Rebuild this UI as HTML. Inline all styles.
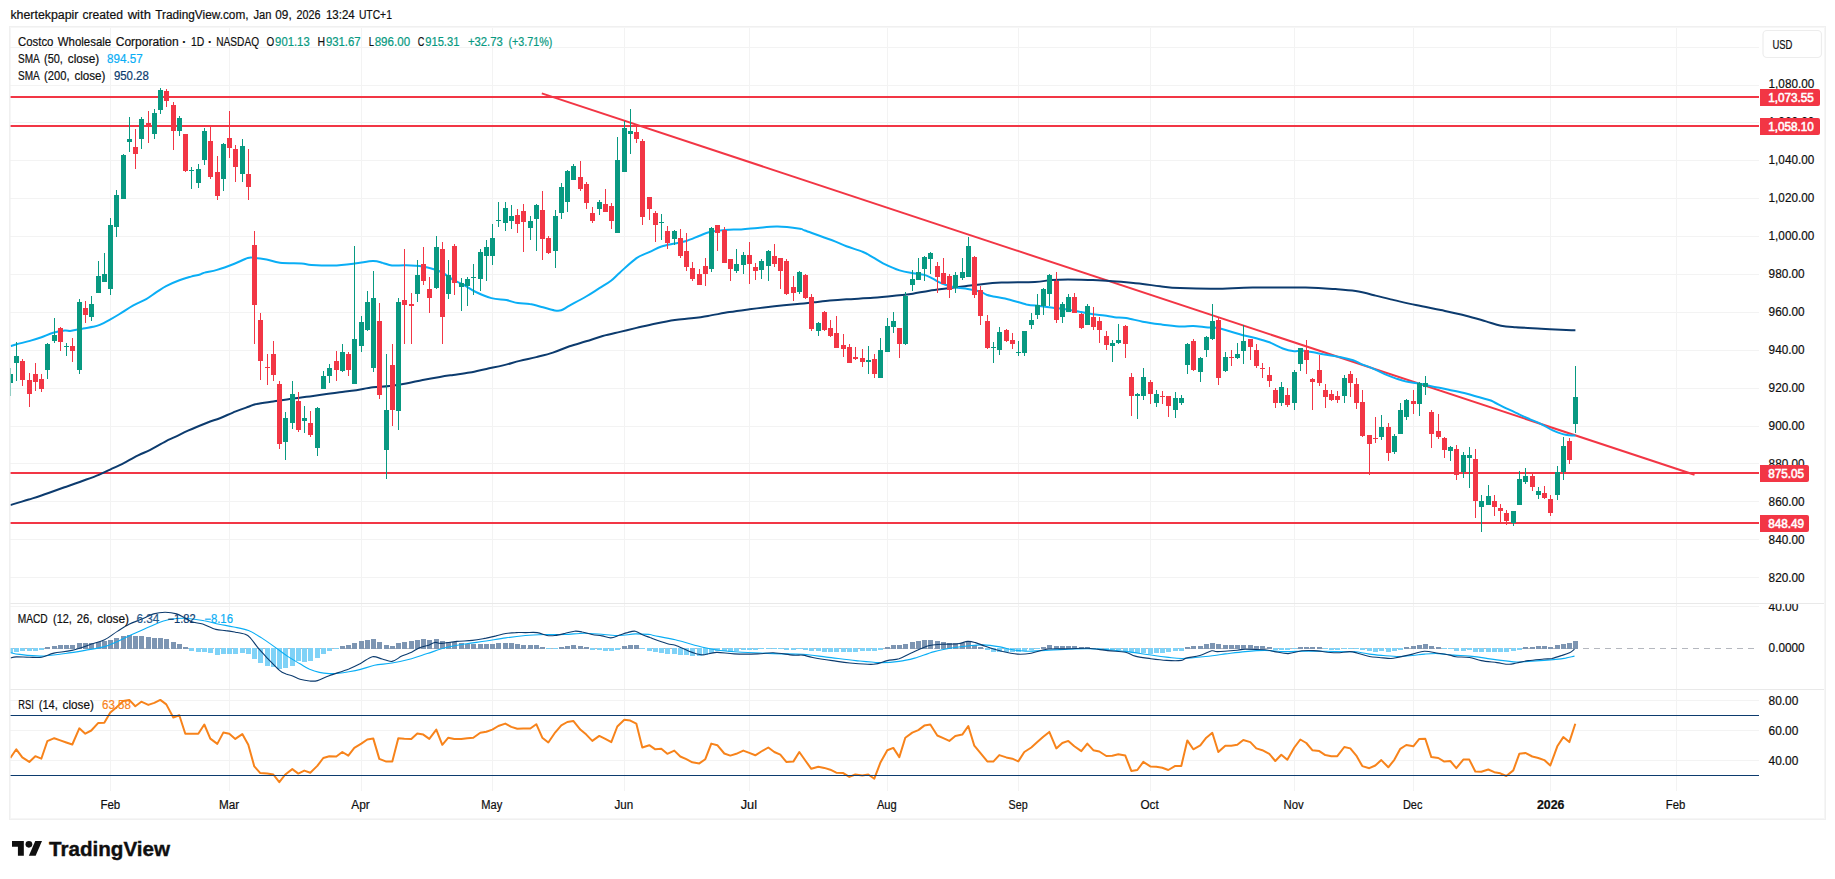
<!DOCTYPE html>
<html><head><meta charset="utf-8"><title>Costco Wholesale Corporation chart</title>
<style>html,body{margin:0;padding:0;background:#fff;overflow:hidden}svg{display:block}</style></head>
<body>
<svg width="1835" height="879" viewBox="0 0 1835 879" font-family='"Liberation Sans", sans-serif' font-size="12" fill="#0f0f0f">
<style>text{stroke-width:.2px}</style>
<g stroke="#0f0f0f" stroke-width="0">
<rect width="1835" height="879" fill="#fff"/>
<path d="M110.5 28V791M229.5 28V791M361.5 28V791M492.5 28V791M624.5 28V791M749.5 28V791M887.5 28V791M1018.5 28V791M1150.5 28V791M1294.5 28V791M1413.5 28V791M1550.5 28V791M1676.5 28V791M10 47.5H1759M10 85.5H1759M10 122.5H1759M10 160.5H1759M10 198.5H1759M10 236.5H1759M10 274.5H1759M10 312.5H1759M10 350.5H1759M10 388.5H1759M10 426.5H1759M10 463.5H1759M10 501.5H1759M10 539.5H1759M10 577.5H1759M10 606.5H1759M10 700.5H1759M10 730.5H1759M10 760.5H1759" stroke="#f3f3f3" stroke-width="1" fill="none" shape-rendering="crispEdges"/>
<g clip-path="url(#cm)">
<clipPath id="cm"><rect x="10" y="28" width="1749" height="575"/></clipPath>
<rect x="10" y="96" width="1749" height="2" fill="#f23645" shape-rendering="crispEdges"/>
<rect x="10" y="125" width="1749" height="2" fill="#f23645" shape-rendering="crispEdges"/>
<rect x="10" y="472" width="1749" height="2" fill="#f23645" shape-rendering="crispEdges"/>
<rect x="10" y="522" width="1749" height="2" fill="#f23645" shape-rendering="crispEdges"/>
<line x1="541.8" y1="93.4" x2="1694.5" y2="474.8" stroke="#f23645" stroke-width="2"/>
<path d="M10.4 505.1C13.4 504.1 23.5 501.1 28.7 499.5C33.9 497.9 35.6 497.5 41.4 495.5C47.3 493.5 57.4 489.8 63.7 487.5C70.1 485.3 73.8 484.1 79.7 482.0C85.5 479.8 93.5 477.0 98.8 474.8C104.1 472.6 107.3 470.9 111.5 468.9C115.8 466.9 119.7 465.1 124.3 462.8C128.8 460.6 134.4 457.3 138.6 455.2C142.8 453.1 145.2 452.4 149.8 450.1C154.3 447.8 161.4 443.5 165.7 441.3C169.9 439.1 171.5 438.7 175.2 436.9C179.0 435.1 182.7 433.0 188.0 430.7C193.3 428.3 201.8 424.8 207.1 422.7C212.4 420.6 215.1 420.1 219.9 418.2C224.6 416.3 231.0 413.3 235.8 411.4C240.6 409.5 245.1 408.0 248.5 406.8C252.0 405.5 252.5 404.8 256.6 404.0C260.7 403.1 267.7 402.3 273.2 401.5C278.8 400.6 284.3 399.7 289.8 399.0C295.4 398.2 300.9 397.6 306.4 396.8C312.0 396.1 317.5 395.2 323.1 394.5C328.6 393.7 334.1 393.0 339.7 392.3C345.2 391.6 350.7 391.0 356.3 390.2C361.8 389.3 367.4 388.0 372.9 387.3C378.4 386.7 384.0 386.7 389.5 386.0C395.0 385.4 400.6 384.5 406.1 383.5C411.7 382.5 417.1 381.0 422.7 379.9C428.4 378.8 434.9 377.7 440.0 376.9C445.1 376.0 448.3 375.6 453.2 374.9C458.2 374.2 464.3 373.6 469.8 372.6C475.4 371.6 480.9 370.1 486.4 368.9C492.0 367.7 497.5 366.7 503.1 365.4C508.6 364.1 514.1 362.3 519.7 360.9C525.2 359.5 530.7 358.5 536.3 357.1C541.8 355.7 547.4 354.4 552.9 352.6C558.4 350.8 564.0 348.2 569.5 346.3C575.0 344.4 580.6 343.0 586.1 341.3C591.7 339.6 597.1 337.6 602.7 336.0C608.4 334.4 614.4 333.2 620.0 331.9C625.6 330.5 630.7 329.3 636.5 327.9C642.3 326.6 648.4 325.1 654.8 323.8C661.2 322.5 668.7 321.0 674.8 320.1C680.8 319.2 685.8 319.0 691.4 318.3C696.9 317.6 701.6 317.0 708.0 315.9C714.3 314.9 722.6 313.2 729.6 312.1C736.5 311.0 742.0 310.3 749.5 309.3C757.0 308.3 766.0 307.2 774.4 306.3C782.8 305.4 793.5 304.5 800.0 303.8C806.5 303.2 808.3 302.8 813.2 302.3C818.2 301.8 824.3 301.1 829.8 300.6C835.4 300.1 839.2 299.8 846.4 299.3C853.6 298.8 864.7 298.4 873.0 297.8C881.3 297.2 889.6 296.3 896.3 295.6C902.9 295.0 907.4 294.5 912.9 293.7C918.4 292.8 924.0 291.5 929.5 290.7C935.0 289.8 940.6 289.2 946.1 288.5C951.7 287.8 957.1 287.2 962.7 286.5C968.4 285.8 973.5 285.0 980.0 284.4C986.5 283.7 992.4 283.0 1001.5 282.6C1010.7 282.2 1026.4 282.4 1034.8 282.0C1043.1 281.5 1045.8 280.5 1051.4 280.1C1056.9 279.7 1061.1 279.5 1068.0 279.5C1074.9 279.5 1086.0 279.9 1092.9 280.1C1099.8 280.4 1104.0 280.6 1109.5 281.0C1115.0 281.3 1120.6 281.8 1126.1 282.3C1131.7 282.8 1137.1 283.3 1142.7 284.0C1148.4 284.6 1153.8 285.6 1160.1 286.3C1166.3 287.0 1170.9 287.7 1180.1 288.1C1189.3 288.5 1203.1 288.9 1215.2 288.8C1227.3 288.7 1237.8 287.8 1252.8 287.6C1267.9 287.4 1291.7 287.3 1305.5 287.6C1319.2 287.8 1327.2 288.5 1335.5 289.1C1343.9 289.7 1348.9 290.0 1355.6 291.1C1362.3 292.2 1369.8 294.2 1375.6 295.6C1381.5 297.0 1384.0 297.8 1390.7 299.4C1397.4 300.9 1407.4 303.3 1415.8 305.1C1424.1 306.9 1432.5 308.4 1440.8 310.1C1449.2 311.9 1458.4 313.8 1465.9 315.7C1473.4 317.5 1480.1 319.7 1486.0 321.4C1491.8 323.1 1496.0 324.7 1501.0 325.7C1506.0 326.6 1509.3 326.7 1516.0 327.2C1522.7 327.7 1532.7 328.2 1541.1 328.7C1549.5 329.1 1560.4 329.7 1566.2 329.9C1571.9 330.2 1573.9 330.2 1575.4 330.2" stroke="#0c3b6e" stroke-width="2" fill="none" stroke-linejoin="round"/>
<path d="M10.8 346.1C11.8 345.8 13.4 345.1 16.6 344.3C19.8 343.4 25.7 342.1 29.9 340.9C34.1 339.8 37.7 338.6 41.5 337.3C45.4 335.9 49.3 333.9 53.2 332.8C57.0 331.7 61.7 331.0 64.8 330.6C67.8 330.3 68.4 331.2 71.4 330.8C74.5 330.4 79.5 329.1 83.1 328.5C86.7 327.8 90.3 327.4 93.0 326.8C95.8 326.2 96.9 326.0 99.7 324.8C102.4 323.7 106.3 321.6 109.6 319.8C113.0 318.0 115.7 316.4 119.6 314.0C123.5 311.7 128.5 308.2 132.9 305.7C137.3 303.2 142.3 301.3 146.2 299.1C150.1 296.9 152.8 294.6 156.1 292.4C159.5 290.3 162.2 288.1 166.1 286.1C170.0 284.1 175.2 281.9 179.4 280.3C183.6 278.7 187.6 277.6 191.0 276.6C194.5 275.7 197.8 275.2 200.0 274.5C202.2 273.8 201.7 273.3 204.5 272.6C207.3 271.8 212.0 271.4 217.0 269.9C222.0 268.5 229.3 265.8 234.4 263.8C239.5 261.8 244.4 259.0 247.7 258.0C251.0 257.0 251.3 257.6 254.5 257.9C257.6 258.1 262.3 258.7 266.6 259.5C270.8 260.3 274.1 262.0 279.9 262.7C285.7 263.4 296.2 263.2 301.5 263.5C306.7 263.9 306.2 264.5 311.4 264.9C316.7 265.2 325.8 265.7 333.0 265.5C340.2 265.3 348.0 264.3 354.6 263.5C361.3 262.8 368.2 261.1 372.9 261.0C377.6 260.9 379.7 262.1 382.9 262.9C386.0 263.6 388.1 265.1 392.0 265.5C395.9 265.9 401.0 265.0 406.1 265.2C411.2 265.3 417.1 265.5 422.7 266.5C428.4 267.6 434.9 269.3 440.0 271.5C445.1 273.7 449.4 277.7 453.2 279.9C457.1 282.0 459.6 282.6 463.2 284.5C466.8 286.5 470.1 289.2 474.8 291.5C479.5 293.8 486.2 296.7 491.4 298.1C496.7 299.6 501.9 299.3 506.4 300.1C510.8 301.0 514.1 302.5 518.0 303.1C521.9 303.8 525.5 303.3 529.6 304.0C533.8 304.6 538.8 306.2 542.9 307.3C547.1 308.4 551.5 309.9 554.6 310.4C557.6 310.9 558.7 311.1 561.2 310.3C563.7 309.5 565.3 307.9 569.5 305.6C573.7 303.3 581.1 299.4 586.1 296.5C591.1 293.6 595.2 290.8 599.4 288.2C603.6 285.5 607.6 283.3 611.0 280.7C614.5 278.1 615.7 276.2 620.0 272.4C624.3 268.6 631.6 261.6 636.5 258.1C641.5 254.7 645.7 253.8 649.8 251.8C654.0 249.9 657.3 247.9 661.5 246.5C665.6 245.1 670.6 244.4 674.8 243.5C678.9 242.6 682.2 242.3 686.4 241.0C690.5 239.7 695.8 237.2 699.7 235.7C703.5 234.2 705.5 233.0 709.6 232.1C713.8 231.1 719.3 230.3 724.6 229.9C729.8 229.5 735.7 229.7 741.2 229.4C746.7 229.1 751.7 228.4 757.8 227.9C763.9 227.4 770.7 226.4 777.7 226.6C784.8 226.7 795.5 228.1 800.0 228.7C804.5 229.4 799.7 228.7 804.9 230.5C810.2 232.4 824.6 237.4 831.5 240.0C838.4 242.6 841.2 244.3 846.4 246.3C851.7 248.3 858.6 250.1 863.1 252.0C867.5 253.8 869.7 255.6 873.0 257.4C876.3 259.3 878.6 261.1 883.0 263.3C887.4 265.4 894.6 268.7 899.6 270.4C904.6 272.1 908.7 272.5 912.9 273.2C917.0 274.0 921.2 274.0 924.5 274.9C927.8 275.8 929.9 277.3 932.8 278.7C935.7 280.1 938.4 282.1 942.0 283.5C945.6 285.0 950.1 286.4 954.4 287.3C958.7 288.3 963.4 288.3 967.7 289.0C972.0 289.7 976.9 290.5 980.0 291.5C983.1 292.5 984.4 293.9 986.6 294.8C988.8 295.6 989.3 295.6 993.2 296.4C997.1 297.2 1004.3 298.4 1009.8 299.7C1015.4 301.1 1021.5 303.3 1026.4 304.4C1031.4 305.4 1035.3 305.5 1039.7 306.0C1044.2 306.6 1048.3 307.1 1053.0 307.7C1057.7 308.3 1063.5 309.0 1068.0 309.7C1072.4 310.4 1075.4 310.9 1079.6 311.7C1083.8 312.4 1088.7 313.5 1092.9 314.2C1097.0 314.8 1100.9 315.0 1104.5 315.5C1108.1 316.0 1110.9 316.8 1114.5 317.2C1118.1 317.6 1121.4 317.3 1126.1 318.0C1130.8 318.8 1137.1 320.6 1142.7 321.7C1148.4 322.7 1156.3 323.8 1160.0 324.3C1163.7 324.9 1161.2 324.5 1164.8 324.9C1168.4 325.3 1176.7 326.4 1181.4 326.5C1186.1 326.7 1188.6 325.9 1193.1 326.0C1197.5 326.2 1203.9 327.1 1208.0 327.4C1212.2 327.7 1214.4 327.2 1218.0 327.9C1221.6 328.5 1225.4 330.0 1229.6 331.2C1233.8 332.4 1238.5 334.0 1242.9 335.2C1247.3 336.3 1251.7 337.0 1256.2 338.2C1260.6 339.4 1265.0 340.6 1269.5 342.3C1273.9 344.0 1278.9 347.0 1282.8 348.5C1286.6 349.9 1289.7 350.8 1292.7 351.1C1295.8 351.5 1298.2 350.5 1301.0 350.6C1303.9 350.7 1306.3 351.2 1310.0 351.8C1313.7 352.4 1318.3 353.3 1323.2 354.2C1328.2 355.0 1334.9 356.0 1339.8 357.0C1344.8 358.0 1349.5 359.1 1353.1 360.3C1356.7 361.5 1358.1 362.7 1361.4 364.1C1364.8 365.5 1369.2 366.9 1373.1 368.6C1376.9 370.3 1380.8 372.4 1384.7 374.1C1388.6 375.7 1392.7 377.3 1396.3 378.6C1399.9 379.8 1402.4 380.7 1406.3 381.6C1410.2 382.4 1415.4 382.9 1419.6 383.7C1423.7 384.5 1426.5 385.2 1431.2 386.2C1435.9 387.2 1442.0 388.3 1447.8 389.5C1453.6 390.8 1460.8 392.2 1466.1 393.5C1471.3 394.8 1475.4 396.2 1479.4 397.3C1483.4 398.5 1487.4 399.5 1490.0 400.3C1492.6 401.2 1492.0 401.2 1494.7 402.5C1497.4 403.8 1502.2 406.3 1506.3 408.3C1510.5 410.3 1515.7 412.8 1519.6 414.6C1523.5 416.4 1526.0 417.5 1529.6 419.1C1533.2 420.7 1537.3 422.2 1541.2 424.1C1545.1 426.0 1549.2 428.7 1552.8 430.4C1556.4 432.1 1560.0 433.3 1562.8 434.1C1565.6 434.9 1567.3 435.0 1569.4 435.2C1571.5 435.4 1574.4 435.4 1575.4 435.4" stroke="#0aaef5" stroke-width="2" fill="none" stroke-linejoin="round"/>
<path d="M10 368h1V396h-1zM8 374h5V383h-5zM16 342h1V381h-1zM14 356h5V363h-5zM47 343h1V379h-1zM45 344h5V370h-5zM54 318h1V343h-1zM52 335h5V341h-5zM66 343h1V356h-1zM64 346h5V347h-5zM79 299h1V374h-1zM77 302h5V370h-5zM91 296h1V321h-1zM89 304h5V317h-5zM98 261h1V293h-1zM96 276h5V293h-5zM104 253h1V282h-1zM102 274h5V282h-5zM110 218h1V295h-1zM108 225h5V289h-5zM116 190h1V237h-1zM114 195h5V227h-5zM123 154h1V199h-1zM121 155h5V199h-5zM129 117h1V152h-1zM127 139h5V142h-5zM141 117h1V149h-1zM139 119h5V139h-5zM154 109h1V139h-1zM152 113h5V134h-5zM160 88h1V114h-1zM158 90h5V110h-5zM179 116h1V136h-1zM177 118h5V131h-5zM191 167h1V189h-1zM189 170h5V171h-5zM198 164h1V188h-1zM196 169h5V183h-5zM204 128h1V165h-1zM202 131h5V160h-5zM223 143h1V191h-1zM221 144h5V179h-5zM242 139h1V182h-1zM240 146h5V174h-5zM285 412h1V460h-1zM283 418h5V442h-5zM292 381h1V429h-1zM290 394h5V423h-5zM304 406h1V433h-1zM302 418h5V421h-5zM317 407h1V456h-1zM315 408h5V448h-5zM323 371h1V389h-1zM321 376h5V389h-5zM329 364h1V383h-1zM327 368h5V376h-5zM342 344h1V372h-1zM340 352h5V371h-5zM354 246h1V384h-1zM352 339h5V384h-5zM361 316h1V352h-1zM359 322h5V346h-5zM367 291h1V331h-1zM365 302h5V330h-5zM373 271h1V372h-1zM371 298h5V368h-5zM386 354h1V479h-1zM384 410h5V450h-5zM398 298h1V430h-1zM396 302h5V411h-5zM417 260h1V302h-1zM415 275h5V294h-5zM436 236h1V289h-1zM434 247h5V288h-5zM448 260h1V299h-1zM446 275h5V294h-5zM461 278h1V311h-1zM459 283h5V287h-5zM467 277h1V306h-1zM465 279h5V286h-5zM473 264h1V295h-1zM471 277h5V278h-5zM480 249h1V291h-1zM478 252h5V279h-5zM486 240h1V281h-1zM484 247h5V256h-5zM492 224h1V265h-1zM490 238h5V256h-5zM498 202h1V227h-1zM496 220h5V221h-5zM505 202h1V231h-1zM503 208h5V223h-5zM511 205h1V229h-1zM509 216h5V221h-5zM530 216h1V240h-1zM528 221h5V228h-5zM536 204h1V251h-1zM534 205h5V219h-5zM555 210h1V268h-1zM553 216h5V251h-5zM561 183h1V219h-1zM559 187h5V213h-5zM567 170h1V212h-1zM565 171h5V202h-5zM573 164h1V180h-1zM571 166h5V180h-5zM599 200h1V215h-1zM597 202h5V209h-5zM617 137h1V233h-1zM615 160h5V233h-5zM624 121h1V172h-1zM622 128h5V172h-5zM630 109h1V154h-1zM628 131h5V134h-5zM661 214h1V240h-1zM659 222h5V223h-5zM674 230h1V245h-1zM672 231h5V239h-5zM711 227h1V272h-1zM709 228h5V269h-5zM736 249h1V273h-1zM734 264h5V271h-5zM743 252h1V274h-1zM741 255h5V265h-5zM761 259h1V279h-1zM759 261h5V270h-5zM768 250h1V281h-1zM766 251h5V266h-5zM799 271h1V294h-1zM797 272h5V292h-5zM818 322h1V336h-1zM816 323h5V331h-5zM868 346h1V374h-1zM866 360h5V362h-5zM880 338h1V378h-1zM878 350h5V378h-5zM887 318h1V352h-1zM885 326h5V352h-5zM893 312h1V333h-1zM891 321h5V327h-5zM905 292h1V345h-1zM903 296h5V344h-5zM912 270h1V291h-1zM910 279h5V285h-5zM918 258h1V280h-1zM916 272h5V280h-5zM924 256h1V281h-1zM922 257h5V269h-5zM930 252h1V274h-1zM928 253h5V259h-5zM955 272h1V293h-1zM953 275h5V288h-5zM962 258h1V280h-1zM960 272h5V278h-5zM968 237h1V277h-1zM966 246h5V277h-5zM993 342h1V363h-1zM991 347h5V348h-5zM999 327h1V355h-1zM997 332h5V350h-5zM1018 341h1V356h-1zM1016 352h5V353h-5zM1024 331h1V356h-1zM1022 331h5V353h-5zM1031 313h1V329h-1zM1029 320h5V325h-5zM1037 294h1V319h-1zM1035 305h5V315h-5zM1043 288h1V315h-1zM1041 289h5V306h-5zM1049 274h1V306h-1zM1047 275h5V294h-5zM1062 302h1V323h-1zM1060 304h5V317h-5zM1068 294h1V312h-1zM1066 297h5V312h-5zM1087 304h1V325h-1zM1085 306h5V325h-5zM1112 340h1V362h-1zM1110 343h5V346h-5zM1118 324h1V344h-1zM1116 340h5V343h-5zM1137 393h1V419h-1zM1135 394h5V396h-5zM1143 368h1V400h-1zM1141 377h5V396h-5zM1156 390h1V407h-1zM1154 394h5V403h-5zM1175 392h1V418h-1zM1173 398h5V410h-5zM1181 395h1V405h-1zM1179 398h5V403h-5zM1187 343h1V374h-1zM1185 344h5V365h-5zM1200 357h1V382h-1zM1198 358h5V372h-5zM1206 336h1V357h-1zM1204 337h5V350h-5zM1212 304h1V340h-1zM1210 321h5V339h-5zM1225 352h1V372h-1zM1223 357h5V371h-5zM1237 343h1V359h-1zM1235 354h5V358h-5zM1243 325h1V364h-1zM1241 341h5V351h-5zM1281 382h1V406h-1zM1279 387h5V403h-5zM1294 370h1V410h-1zM1292 372h5V403h-5zM1300 348h1V371h-1zM1298 348h5V364h-5zM1344 375h1V403h-1zM1342 378h5V396h-5zM1381 415h1V440h-1zM1379 427h5V437h-5zM1394 434h1V454h-1zM1392 436h5V452h-5zM1400 403h1V434h-1zM1398 410h5V434h-5zM1406 399h1V420h-1zM1404 400h5V417h-5zM1419 382h1V416h-1zM1417 383h5V404h-5zM1425 376h1V395h-1zM1423 383h5V387h-5zM1450 446h1V461h-1zM1448 447h5V451h-5zM1463 452h1V478h-1zM1461 455h5V472h-5zM1469 447h1V488h-1zM1467 455h5V458h-5zM1481 495h1V532h-1zM1479 501h5V507h-5zM1488 485h1V505h-1zM1486 496h5V505h-5zM1513 511h1V526h-1zM1511 511h5V523h-5zM1519 471h1V505h-1zM1517 479h5V505h-5zM1525 468h1V484h-1zM1523 476h5V482h-5zM1538 487h1V499h-1zM1536 491h5V495h-5zM1557 466h1V500h-1zM1555 472h5V495h-5zM1563 437h1V480h-1zM1561 446h5V472h-5zM1575 366h1V433h-1zM1573 397h5V424h-5z" fill="#089981" shape-rendering="crispEdges"/>
<path d="M22 359h1V386h-1zM20 361h5V380h-5zM29 373h1V407h-1zM27 380h5V394h-5zM35 363h1V391h-1zM33 374h5V382h-5zM41 374h1V392h-1zM39 379h5V389h-5zM60 327h1V351h-1zM58 328h5V342h-5zM72 338h1V362h-1zM70 346h5V351h-5zM85 301h1V323h-1zM83 308h5V315h-5zM135 129h1V169h-1zM133 147h5V154h-5zM148 111h1V143h-1zM146 123h5V126h-5zM166 89h1V107h-1zM164 91h5V101h-5zM173 102h1V150h-1zM171 105h5V131h-5zM185 134h1V172h-1zM183 134h5V171h-5zM210 127h1V179h-1zM208 141h5V177h-5zM217 156h1V200h-1zM215 172h5V196h-5zM229 111h1V158h-1zM227 138h5V148h-5zM235 145h1V182h-1zM233 149h5V167h-5zM248 149h1V200h-1zM246 174h5V187h-5zM254 231h1V344h-1zM252 245h5V305h-5zM260 313h1V380h-1zM258 320h5V361h-5zM267 354h1V385h-1zM265 367h5V368h-5zM273 341h1V381h-1zM271 354h5V375h-5zM279 381h1V449h-1zM277 384h5V444h-5zM298 392h1V432h-1zM296 401h5V430h-5zM310 411h1V437h-1zM308 423h5V435h-5zM336 351h1V381h-1zM334 361h5V370h-5zM348 352h1V376h-1zM346 354h5V370h-5zM379 303h1V399h-1zM377 321h5V395h-5zM392 344h1V426h-1zM390 365h5V410h-5zM404 249h1V344h-1zM402 300h5V305h-5zM411 293h1V344h-1zM409 304h5V306h-5zM423 247h1V285h-1zM421 264h5V281h-5zM429 277h1V313h-1zM427 289h5V298h-5zM442 242h1V344h-1zM440 249h5V317h-5zM454 244h1V295h-1zM452 246h5V283h-5zM517 209h1V233h-1zM515 215h5V224h-5zM523 204h1V252h-1zM521 211h5V222h-5zM542 191h1V260h-1zM540 210h5V239h-5zM548 236h1V254h-1zM546 238h5V253h-5zM580 161h1V191h-1zM578 177h5V189h-5zM586 182h1V209h-1zM584 184h5V203h-5zM592 207h1V223h-1zM590 213h5V221h-5zM605 189h1V212h-1zM603 204h5V212h-5zM611 203h1V229h-1zM609 206h5V221h-5zM636 127h1V143h-1zM634 132h5V139h-5zM642 139h1V225h-1zM640 141h5V217h-5zM649 197h1V220h-1zM647 197h5V209h-5zM655 211h1V242h-1zM653 213h5V225h-5zM667 226h1V249h-1zM665 231h5V243h-5zM680 229h1V258h-1zM678 238h5V256h-5zM686 233h1V271h-1zM684 251h5V267h-5zM692 262h1V281h-1zM690 268h5V279h-5zM699 269h1V285h-1zM697 274h5V285h-5zM705 258h1V286h-1zM703 266h5V274h-5zM717 225h1V251h-1zM715 225h5V233h-5zM724 227h1V263h-1zM722 230h5V263h-5zM730 259h1V281h-1zM728 259h5V269h-5zM749 242h1V284h-1zM747 255h5V264h-5zM755 263h1V280h-1zM753 267h5V271h-5zM774 244h1V267h-1zM772 256h5V264h-5zM780 258h1V289h-1zM778 258h5V271h-5zM786 259h1V295h-1zM784 261h5V294h-5zM793 276h1V301h-1zM791 287h5V293h-5zM805 274h1V299h-1zM803 275h5V298h-5zM811 294h1V331h-1zM809 297h5V329h-5zM824 311h1V331h-1zM822 312h5V330h-5zM830 320h1V337h-1zM828 328h5V336h-5zM836 316h1V348h-1zM834 333h5V348h-5zM843 334h1V357h-1zM841 345h5V349h-5zM849 344h1V363h-1zM847 347h5V363h-5zM855 347h1V360h-1zM853 357h5V359h-5zM862 349h1V367h-1zM860 358h5V362h-5zM874 354h1V378h-1zM872 359h5V374h-5zM899 328h1V358h-1zM897 328h5V344h-5zM937 262h1V293h-1zM935 266h5V277h-5zM943 258h1V284h-1zM941 273h5V284h-5zM949 274h1V298h-1zM947 276h5V290h-5zM974 256h1V298h-1zM972 257h5V295h-5zM980 286h1V325h-1zM978 290h5V316h-5zM987 315h1V349h-1zM985 321h5V348h-5zM1006 329h1V342h-1zM1004 330h5V341h-5zM1012 333h1V349h-1zM1010 340h5V344h-5zM1056 272h1V323h-1zM1054 281h5V320h-5zM1074 293h1V313h-1zM1072 297h5V313h-5zM1081 313h1V329h-1zM1079 314h5V328h-5zM1093 307h1V330h-1zM1091 317h5V327h-5zM1099 317h1V343h-1zM1097 321h5V330h-5zM1106 331h1V350h-1zM1104 336h5V345h-5zM1125 325h1V358h-1zM1123 326h5V344h-5zM1131 373h1V416h-1zM1129 377h5V396h-5zM1150 380h1V404h-1zM1148 382h5V394h-5zM1162 391h1V404h-1zM1160 396h5V397h-5zM1168 396h1V417h-1zM1166 396h5V406h-5zM1193 339h1V371h-1zM1191 341h5V370h-5zM1218 318h1V385h-1zM1216 320h5V378h-5zM1231 350h1V366h-1zM1229 357h5V358h-5zM1250 339h1V360h-1zM1248 339h5V347h-5zM1256 344h1V368h-1zM1254 350h5V366h-5zM1262 363h1V378h-1zM1260 368h5V369h-5zM1269 367h1V387h-1zM1267 375h5V381h-5zM1275 388h1V408h-1zM1273 390h5V403h-5zM1287 388h1V407h-1zM1285 395h5V405h-5zM1306 340h1V374h-1zM1304 350h5V360h-5zM1312 378h1V410h-1zM1310 379h5V382h-5zM1319 355h1V386h-1zM1317 370h5V383h-5zM1325 384h1V408h-1zM1323 390h5V397h-5zM1331 390h1V401h-1zM1329 394h5V400h-5zM1337 391h1V403h-1zM1335 396h5V400h-5zM1350 371h1V397h-1zM1348 374h5V383h-5zM1356 378h1V409h-1zM1354 384h5V403h-5zM1362 390h1V437h-1zM1360 402h5V436h-5zM1369 435h1V475h-1zM1367 435h5V444h-5zM1375 417h1V443h-1zM1373 438h5V439h-5zM1388 423h1V461h-1zM1386 427h5V453h-5zM1413 390h1V414h-1zM1411 401h5V404h-5zM1431 410h1V448h-1zM1429 412h5V434h-5zM1438 414h1V439h-1zM1436 431h5V437h-5zM1444 437h1V458h-1zM1442 438h5V450h-5zM1456 445h1V480h-1zM1454 449h5V475h-5zM1475 449h1V518h-1zM1473 459h5V501h-5zM1494 495h1V516h-1zM1492 501h5V507h-5zM1500 504h1V522h-1zM1498 508h5V511h-5zM1506 510h1V525h-1zM1504 513h5V521h-5zM1532 474h1V491h-1zM1530 476h5V487h-5zM1544 486h1V499h-1zM1542 493h5V498h-5zM1550 495h1V516h-1zM1548 499h5V513h-5zM1569 438h1V464h-1zM1567 441h5V460h-5z" fill="#f23645" shape-rendering="crispEdges"/>
</g>
<g clip-path="url(#c2)">
<clipPath id="c2"><rect x="10" y="604" width="1749" height="85"/></clipPath>
<line x1="10" y1="648.5" x2="1759" y2="648.5" stroke="#b5b8bf" stroke-width="1" stroke-dasharray="5.5 5.5" shape-rendering="crispEdges"/>
<path d="M45 647h5V649h-5zM52 646h5V649h-5zM58 645h5V649h-5zM64 645h5V649h-5zM70 645h5V649h-5zM77 643h5V649h-5zM83 643h5V649h-5zM89 643h5V649h-5zM96 642h5V649h-5zM102 641h5V649h-5zM108 640h5V649h-5zM114 638h5V649h-5zM121 636h5V649h-5zM127 635h5V649h-5zM133 636h5V649h-5zM139 636h5V649h-5zM146 637h5V649h-5zM152 638h5V649h-5zM158 638h5V649h-5zM164 639h5V649h-5zM171 642h5V649h-5zM177 644h5V649h-5zM183 647h5V649h-5zM340 646h5V649h-5zM346 645h5V649h-5zM352 643h5V649h-5zM359 641h5V649h-5zM365 640h5V649h-5zM371 639h5V649h-5zM377 642h5V649h-5zM384 645h5V649h-5zM390 646h5V649h-5zM396 643h5V649h-5zM402 642h5V649h-5zM409 641h5V649h-5zM415 640h5V649h-5zM421 639h5V649h-5zM427 640h5V649h-5zM434 639h5V649h-5zM440 641h5V649h-5zM446 642h5V649h-5zM452 642h5V649h-5zM459 643h5V649h-5zM465 644h5V649h-5zM471 644h5V649h-5zM478 644h5V649h-5zM484 644h5V649h-5zM490 644h5V649h-5zM496 643h5V649h-5zM503 643h5V649h-5zM509 643h5V649h-5zM515 644h5V649h-5zM521 645h5V649h-5zM528 645h5V649h-5zM534 645h5V649h-5zM540 647h5V649h-5zM559 647h5V649h-5zM565 646h5V649h-5zM571 645h5V649h-5zM578 646h5V649h-5zM584 647h5V649h-5zM622 646h5V649h-5zM628 645h5V649h-5zM634 645h5V649h-5zM885 647h5V649h-5zM891 645h5V649h-5zM897 645h5V649h-5zM903 644h5V649h-5zM910 642h5V649h-5zM916 641h5V649h-5zM922 640h5V649h-5zM928 640h5V649h-5zM935 641h5V649h-5zM941 642h5V649h-5zM947 643h5V649h-5zM953 643h5V649h-5zM960 643h5V649h-5zM966 642h5V649h-5zM972 645h5V649h-5zM978 647h5V649h-5zM1041 647h5V649h-5zM1047 645h5V649h-5zM1054 646h5V649h-5zM1060 646h5V649h-5zM1066 646h5V649h-5zM1072 646h5V649h-5zM1079 647h5V649h-5zM1085 647h5V649h-5zM1185 647h5V649h-5zM1191 646h5V649h-5zM1198 646h5V649h-5zM1204 644h5V649h-5zM1210 643h5V649h-5zM1216 644h5V649h-5zM1223 645h5V649h-5zM1229 645h5V649h-5zM1235 645h5V649h-5zM1241 645h5V649h-5zM1248 645h5V649h-5zM1254 646h5V649h-5zM1260 646h5V649h-5zM1267 647h5V649h-5zM1298 647h5V649h-5zM1304 647h5V649h-5zM1310 647h5V649h-5zM1317 647h5V649h-5zM1404 647h5V649h-5zM1411 646h5V649h-5zM1417 645h5V649h-5zM1423 644h5V649h-5zM1429 646h5V649h-5zM1436 647h5V649h-5zM1523 647h5V649h-5zM1530 647h5V649h-5zM1536 646h5V649h-5zM1542 646h5V649h-5zM1548 647h5V649h-5zM1555 645h5V649h-5zM1561 644h5V649h-5zM1567 643h5V649h-5zM1573 641h5V649h-5z" fill="#7d95b2" shape-rendering="crispEdges"/>
<path d="M8 648h5V653h-5zM14 648h5V652h-5zM20 648h5V651h-5zM27 648h5V651h-5zM33 648h5V651h-5zM39 648h5V650h-5zM189 648h5V651h-5zM196 648h5V652h-5zM202 648h5V652h-5zM208 648h5V653h-5zM215 648h5V655h-5zM221 648h5V654h-5zM227 648h5V654h-5zM233 648h5V654h-5zM240 648h5V653h-5zM246 648h5V654h-5zM252 648h5V659h-5zM258 648h5V663h-5zM265 648h5V666h-5zM271 648h5V667h-5zM277 648h5V669h-5zM283 648h5V668h-5zM290 648h5V666h-5zM296 648h5V661h-5zM302 648h5V662h-5zM308 648h5V661h-5zM315 648h5V658h-5zM321 648h5V654h-5zM327 648h5V651h-5zM334 648h5V649h-5zM546 648h5V649h-5zM553 648h5V649h-5zM590 648h5V650h-5zM597 648h5V650h-5zM603 648h5V651h-5zM609 648h5V651h-5zM615 648h5V650h-5zM640 648h5V649h-5zM647 648h5V651h-5zM653 648h5V652h-5zM659 648h5V653h-5zM665 648h5V654h-5zM672 648h5V654h-5zM678 648h5V655h-5zM684 648h5V655h-5zM690 648h5V656h-5zM697 648h5V656h-5zM703 648h5V655h-5zM709 648h5V653h-5zM715 648h5V651h-5zM722 648h5V651h-5zM728 648h5V652h-5zM734 648h5V651h-5zM741 648h5V650h-5zM747 648h5V650h-5zM753 648h5V650h-5zM759 648h5V649h-5zM766 648h5V649h-5zM772 648h5V649h-5zM778 648h5V649h-5zM784 648h5V650h-5zM791 648h5V650h-5zM797 648h5V649h-5zM803 648h5V650h-5zM809 648h5V651h-5zM816 648h5V651h-5zM822 648h5V652h-5zM828 648h5V652h-5zM834 648h5V652h-5zM841 648h5V652h-5zM847 648h5V652h-5zM853 648h5V652h-5zM860 648h5V651h-5zM866 648h5V651h-5zM872 648h5V651h-5zM878 648h5V650h-5zM985 648h5V650h-5zM991 648h5V652h-5zM997 648h5V652h-5zM1004 648h5V652h-5zM1010 648h5V652h-5zM1016 648h5V652h-5zM1022 648h5V651h-5zM1029 648h5V650h-5zM1035 648h5V649h-5zM1091 648h5V649h-5zM1097 648h5V649h-5zM1104 648h5V650h-5zM1110 648h5V650h-5zM1116 648h5V650h-5zM1123 648h5V651h-5zM1129 648h5V652h-5zM1135 648h5V653h-5zM1141 648h5V653h-5zM1148 648h5V654h-5zM1154 648h5V653h-5zM1160 648h5V653h-5zM1166 648h5V652h-5zM1173 648h5V651h-5zM1179 648h5V651h-5zM1273 648h5V650h-5zM1279 648h5V650h-5zM1285 648h5V650h-5zM1292 648h5V649h-5zM1323 648h5V649h-5zM1329 648h5V650h-5zM1335 648h5V650h-5zM1342 648h5V649h-5zM1348 648h5V649h-5zM1354 648h5V649h-5zM1360 648h5V650h-5zM1367 648h5V651h-5zM1373 648h5V652h-5zM1379 648h5V651h-5zM1386 648h5V652h-5zM1392 648h5V651h-5zM1398 648h5V650h-5zM1442 648h5V649h-5zM1448 648h5V649h-5zM1454 648h5V651h-5zM1461 648h5V651h-5zM1467 648h5V650h-5zM1473 648h5V652h-5zM1479 648h5V652h-5zM1486 648h5V652h-5zM1492 648h5V652h-5zM1498 648h5V652h-5zM1504 648h5V652h-5zM1511 648h5V651h-5zM1517 648h5V650h-5z" fill="#7fd2f7" shape-rendering="crispEdges"/>
<path d="M10.5 652.6C12.0 652.9 14.5 653.9 19.6 654.4C24.7 655.0 33.2 656.2 40.9 656.1C48.5 655.9 58.0 654.4 65.4 653.5C72.7 652.5 78.5 651.5 85.0 650.4C91.5 649.2 99.2 648.1 104.6 646.6C110.1 645.1 113.3 643.3 117.7 641.4C122.1 639.5 125.9 637.4 130.8 635.1C135.7 632.9 141.7 630.2 147.1 627.8C152.6 625.4 158.6 622.5 163.5 620.9C168.4 619.4 172.5 618.9 176.6 618.5C180.6 618.1 183.4 618.1 188.0 618.5C192.6 618.9 199.2 619.8 204.3 620.8C209.5 621.7 214.2 623.2 219.1 624.2C224.0 625.2 228.9 625.9 233.8 627.0C238.7 628.0 243.9 628.7 248.5 630.6C253.1 632.4 257.2 635.2 261.6 637.9C265.9 640.7 270.3 643.8 274.6 646.9C279.0 650.0 283.5 653.6 287.7 656.4C291.9 659.2 296.3 661.6 300.0 663.8C303.6 665.9 306.4 667.8 309.6 669.3C312.9 670.7 316.2 671.7 319.4 672.4C322.7 673.1 326.0 673.4 329.2 673.6C332.5 673.7 335.8 673.5 339.0 673.2C342.3 672.9 345.3 672.4 348.9 671.8C352.5 671.2 356.4 670.5 360.6 669.4C364.9 668.4 369.1 666.4 374.4 665.3C379.6 664.2 385.8 664.1 392.0 663.0C398.2 661.9 405.8 660.2 411.6 658.7C417.5 657.1 421.4 655.5 427.3 653.6C433.2 651.7 440.4 648.9 447.0 647.3C453.5 645.6 460.0 644.8 466.6 643.7C473.1 642.7 479.7 642.0 486.2 641.0C492.7 640.0 499.3 638.8 505.8 637.9C512.4 636.9 518.9 636.1 525.4 635.5C532.0 634.9 538.5 634.7 545.1 634.5C551.6 634.4 558.1 634.8 564.7 634.5C571.2 634.3 577.8 633.2 584.3 633.2C590.8 633.2 598.0 634.1 603.9 634.5C609.8 634.9 614.4 635.6 619.6 635.5C624.8 635.4 630.2 634.1 635.3 633.9C640.4 633.8 646.9 634.3 650.0 634.5C653.1 634.8 649.5 634.6 653.7 635.5C658.0 636.4 667.1 637.9 675.3 639.8C683.5 641.8 695.6 645.5 702.8 647.3C710.0 649.0 711.9 649.4 718.5 650.2C725.0 651.0 732.9 651.6 742.0 652.2C751.2 652.7 763.3 653.2 773.4 653.6C783.5 653.9 794.0 653.8 802.8 654.3C811.7 654.9 817.6 656.0 826.4 657.1C835.2 658.1 847.0 659.7 855.8 660.6C864.6 661.5 872.2 662.4 879.4 662.6C886.6 662.7 893.1 662.2 899.0 661.4C904.9 660.7 908.8 659.7 914.7 658.1C920.6 656.4 927.8 653.3 934.3 651.6C940.8 649.9 948.0 648.7 953.9 647.7C959.8 646.7 964.7 646.2 969.6 645.7C974.5 645.2 978.3 644.7 983.3 644.9C988.4 645.1 995.6 646.2 1000.0 646.9C1004.4 647.6 1005.4 648.5 1009.6 649.2C1013.8 650.0 1018.8 651.0 1025.3 651.2C1031.9 651.4 1041.7 650.5 1048.9 650.2C1056.1 649.9 1061.9 649.5 1068.5 649.2C1075.0 649.0 1081.6 648.6 1088.1 648.7C1094.6 648.7 1101.2 649.3 1107.7 649.8C1114.3 650.3 1120.8 650.8 1127.3 651.6C1133.9 652.4 1140.4 653.6 1147.0 654.5C1153.5 655.5 1160.7 656.4 1166.6 657.1C1172.5 657.7 1175.7 658.6 1182.3 658.5C1188.8 658.4 1198.6 657.3 1205.8 656.5C1213.0 655.7 1218.9 654.8 1225.4 653.9C1232.0 653.1 1238.5 652.2 1245.1 651.6C1251.6 651.0 1258.1 650.4 1264.7 650.4C1271.2 650.4 1277.8 651.5 1284.3 651.6C1290.8 651.7 1297.4 651.3 1303.9 651.2C1310.4 651.1 1315.8 651.1 1323.5 651.2C1331.2 651.3 1344.7 651.7 1350.0 651.8C1355.4 651.9 1352.5 651.4 1355.7 651.8C1358.9 652.2 1364.9 653.5 1369.4 654.1C1374.0 654.8 1378.3 655.1 1383.2 655.5C1388.1 655.9 1394.0 656.5 1398.9 656.5C1403.8 656.5 1408.3 655.9 1412.6 655.5C1416.8 655.1 1420.1 654.5 1424.4 654.1C1428.6 653.8 1433.2 653.4 1438.1 653.6C1443.0 653.7 1448.6 654.7 1453.8 655.1C1459.0 655.5 1464.3 655.6 1469.5 656.1C1474.7 656.6 1480.0 657.3 1485.2 658.1C1490.4 658.8 1495.6 659.8 1500.9 660.4C1506.1 661.1 1512.0 661.8 1516.6 662.0C1521.2 662.2 1523.8 661.7 1528.3 661.4C1532.9 661.1 1539.5 660.7 1544.0 660.4C1548.6 660.1 1552.2 659.8 1555.8 659.4C1559.4 659.0 1562.5 658.6 1565.6 658.1C1568.7 657.5 1573.0 656.4 1574.5 656.1" stroke="#0aaef5" stroke-width="1.1" fill="none" stroke-linejoin="round"/>
<path d="M10.5 658.0C11.4 657.8 13.2 657.0 16.3 656.9C19.5 656.8 25.2 657.2 29.4 657.2C33.6 657.3 37.6 657.9 41.7 657.2C45.8 656.5 48.9 654.3 53.9 653.1C59.0 652.0 65.7 651.9 71.9 650.4C78.2 648.9 86.1 645.9 91.5 644.1C97.0 642.4 100.3 641.9 104.6 639.7C109.0 637.5 113.6 633.6 117.7 631.1C121.8 628.5 125.3 626.1 129.1 624.2C133.0 622.3 136.5 621.3 140.6 619.6C144.7 617.9 149.6 615.1 153.7 613.9C157.8 612.7 161.3 612.3 165.1 612.3C168.9 612.3 173.3 612.9 176.6 613.9C179.8 614.8 182.0 616.6 184.7 618.0C187.5 619.3 189.9 621.1 192.9 622.1C195.9 623.1 198.9 622.8 202.7 624.0C206.5 625.3 212.0 628.3 215.8 629.4C219.6 630.5 222.3 630.1 225.6 630.6C228.9 631.0 232.1 631.6 235.4 632.2C238.7 632.8 242.8 633.4 245.2 634.3C247.7 635.2 247.9 635.3 250.1 637.6C252.3 639.9 255.3 644.7 258.3 648.2C261.3 651.8 264.6 655.2 268.1 658.9C271.6 662.5 276.6 667.8 279.5 670.3C282.5 672.8 283.9 673.1 286.1 674.1C288.3 675.0 290.3 675.1 292.6 676.0C294.9 676.9 297.2 678.5 300.0 679.3C302.8 680.1 306.7 680.8 309.6 681.0C312.5 681.2 314.2 681.5 317.5 680.6C320.7 679.7 324.0 677.7 329.2 675.7C334.5 673.8 343.6 670.9 348.9 668.9C354.1 666.8 356.7 665.4 360.6 663.4C364.6 661.3 368.8 657.4 372.4 656.7C376.0 656.0 378.9 658.3 382.2 659.0C385.5 659.8 388.8 661.9 392.0 661.4C395.3 660.9 398.6 657.6 401.8 656.1C405.1 654.6 408.7 653.6 411.6 652.2C414.6 650.8 416.5 648.9 419.5 647.7C422.4 646.5 426.7 645.8 429.3 644.9C431.9 644.0 433.2 642.6 435.2 642.4C437.1 642.1 437.5 643.5 441.1 643.4C444.7 643.2 451.5 641.9 456.8 641.4C462.0 640.9 467.6 641.0 472.5 640.4C477.4 639.9 482.3 638.8 486.2 638.1C490.1 637.3 492.7 636.6 496.0 635.9C499.3 635.1 502.5 634.1 505.8 633.5C509.1 633.0 512.4 632.7 515.6 632.6C518.9 632.4 521.8 632.6 525.4 632.6C529.0 632.6 533.6 632.1 537.2 632.6C540.8 633.1 544.1 635.0 547.0 635.5C550.0 636.0 551.9 635.8 554.9 635.5C557.8 635.2 561.4 634.3 564.7 633.5C567.9 632.8 571.5 631.5 574.5 631.2C577.4 630.9 579.4 631.4 582.3 632.0C585.3 632.5 588.9 633.9 592.1 634.5C595.4 635.2 598.8 635.3 601.9 635.9C605.1 636.5 607.8 638.0 610.8 637.9C613.7 637.7 616.8 636.0 619.6 635.1C622.4 634.2 624.8 633.2 627.5 632.6C630.1 631.9 632.7 630.8 635.3 631.2C637.9 631.6 640.7 634.1 643.1 635.1C645.6 636.2 648.3 636.8 650.0 637.5C651.8 638.1 650.8 638.0 653.7 639.0C656.6 640.1 663.9 642.7 667.5 643.7C671.1 644.8 671.7 644.1 675.3 645.3C678.9 646.6 685.1 649.7 689.0 651.2C693.0 652.7 696.2 653.8 698.9 654.3C701.5 654.9 701.8 655.1 704.7 654.7C707.7 654.4 711.6 652.5 716.5 652.4C721.4 652.2 727.3 653.7 734.2 653.9C741.0 654.2 751.2 654.1 757.7 653.9C764.3 653.8 767.5 652.6 773.4 652.8C779.3 653.0 788.1 654.7 793.0 655.1C797.9 655.5 799.6 654.7 802.8 655.1C806.1 655.5 807.7 656.6 812.7 657.5C817.6 658.4 826.1 659.7 832.3 660.6C838.5 661.5 843.1 662.4 849.9 663.0C856.8 663.6 867.3 664.7 873.5 664.3C879.7 664.0 883.0 661.6 887.2 660.6C891.5 659.7 895.1 659.9 899.0 658.7C902.9 657.4 905.8 655.3 910.7 653.2C915.7 651.0 923.2 647.2 928.4 645.7C933.6 644.2 937.2 644.7 942.1 644.3C947.0 644.0 953.6 644.2 957.8 643.7C962.1 643.3 964.7 641.6 967.6 641.4C970.6 641.2 972.5 641.8 975.5 642.6C978.4 643.4 981.2 644.9 985.3 646.3C989.4 647.7 994.7 649.5 1000.0 650.8C1005.4 652.1 1012.3 653.8 1017.5 654.1C1022.7 654.5 1026.3 654.0 1031.2 653.2C1036.1 652.3 1040.7 650.0 1046.9 649.2C1053.1 648.5 1061.6 649.0 1068.5 648.8C1075.3 648.7 1081.6 648.0 1088.1 648.3C1094.6 648.6 1101.5 650.0 1107.7 650.6C1113.9 651.3 1120.8 651.3 1125.4 652.2C1130.0 653.1 1130.9 655.0 1135.2 656.1C1139.4 657.2 1145.6 657.9 1150.9 658.7C1156.1 659.4 1161.5 660.1 1166.6 660.4C1171.6 660.7 1178.0 660.8 1181.3 660.4C1184.6 660.0 1183.1 658.9 1186.2 658.1C1189.3 657.3 1195.7 656.7 1199.9 655.5C1204.2 654.3 1208.8 651.5 1211.7 650.8C1214.6 650.2 1213.3 651.7 1217.6 651.6C1221.8 651.5 1232.6 650.6 1237.2 650.2C1241.8 649.8 1240.5 649.3 1245.1 649.2C1249.6 649.2 1259.8 649.4 1264.7 649.8C1269.6 650.2 1270.6 651.0 1274.5 651.6C1278.4 652.2 1283.6 653.7 1288.2 653.6C1292.8 653.4 1297.7 651.3 1301.9 650.8C1306.2 650.3 1309.5 650.4 1313.7 650.6C1318.0 650.8 1323.5 651.8 1327.5 652.2C1331.4 652.5 1333.5 652.9 1337.3 652.8C1341.0 652.7 1346.6 651.5 1350.0 651.6C1353.4 651.7 1354.4 652.3 1357.7 653.2C1360.9 654.0 1365.8 655.8 1369.4 656.5C1373.0 657.2 1375.6 657.2 1379.2 657.5C1382.8 657.8 1387.7 658.5 1391.0 658.5C1394.3 658.4 1395.3 657.8 1398.9 657.1C1402.5 656.4 1408.3 655.1 1412.6 654.1C1416.8 653.2 1420.1 651.4 1424.4 651.2C1428.6 651.0 1433.8 652.5 1438.1 653.2C1442.3 653.8 1446.9 654.5 1449.9 655.1C1452.8 655.7 1452.5 656.3 1455.8 656.7C1459.0 657.1 1465.2 656.8 1469.5 657.5C1473.7 658.1 1476.7 659.8 1481.3 660.6C1485.8 661.5 1492.4 662.0 1497.0 662.6C1501.5 663.2 1505.5 664.3 1508.7 664.3C1512.0 664.4 1513.3 663.6 1516.6 663.0C1519.8 662.4 1523.8 661.3 1528.3 660.6C1532.9 660.0 1540.1 659.4 1544.0 659.0C1548.0 658.7 1548.9 659.0 1551.9 658.5C1554.8 657.9 1558.8 656.5 1561.7 655.5C1564.6 654.6 1567.4 653.8 1569.5 652.8C1571.7 651.7 1573.6 649.8 1574.5 649.2" stroke="#0c3b6e" stroke-width="1.1" fill="none" stroke-linejoin="round"/>
</g>
<g clip-path="url(#c3)">
<clipPath id="c3"><rect x="10" y="690" width="1749" height="101"/></clipPath>
<path d="M10.3 758.0L16.3 749.3L22.3 757.4L29.3 761.9L35.3 756.2L41.3 758.7L47.3 741.2L54.3 738.2L60.3 740.4L66.3 742.5L72.3 744.5L79.3 728.3L85.3 733.7L91.3 730.5L98.3 722.9L104.3 722.7L110.3 712.5L116.3 707.4L123.3 701.1L129.3 699.9L135.3 706.2L141.3 701.7L148.3 704.9L154.3 702.9L160.3 699.9L166.3 704.4L173.3 717.5L179.3 715.2L185.3 733.7L191.3 733.7L198.3 733.7L204.3 724.5L210.3 738.6L217.3 743.9L223.3 732.6L229.3 733.7L235.3 738.9L242.3 734.1L248.3 744.8L254.3 766.4L260.3 773.1L267.3 773.6L273.3 774.5L279.3 782.1L285.3 774.5L292.3 769.1L298.3 773.6L304.3 770.6L310.3 772.7L317.3 765.9L323.3 758.0L329.3 756.2L336.3 756.5L342.3 752.0L348.3 755.6L354.3 747.9L361.3 743.6L367.3 739.5L373.3 738.6L379.3 758.9L386.3 761.6L392.3 761.6L398.3 738.2L404.3 738.7L411.3 739.1L417.3 733.5L423.3 734.6L429.3 738.9L436.3 729.6L442.3 744.8L448.3 737.7L454.3 738.9L461.3 739.1L467.3 738.2L473.3 737.8L480.3 732.8L486.3 731.7L492.3 729.6L498.3 726.0L505.3 723.6L511.3 726.9L517.3 728.8L523.3 728.5L530.3 728.5L536.3 724.2L542.3 737.7L548.3 742.5L555.3 732.3L561.3 725.4L567.3 722.0L573.3 720.9L580.3 729.6L586.3 734.6L592.3 740.9L599.3 735.9L605.3 738.9L611.3 742.1L617.3 726.5L624.3 719.7L630.3 720.6L636.3 723.6L642.3 747.5L649.3 745.2L655.3 749.3L661.3 748.8L667.3 753.8L674.3 750.6L680.3 756.5L686.3 759.2L692.3 762.3L699.3 763.4L705.3 759.2L711.3 743.6L717.3 745.2L724.3 753.5L730.3 755.6L736.3 753.8L743.3 750.6L749.3 752.9L755.3 755.3L761.3 751.5L768.3 747.5L774.3 752.0L780.3 754.7L786.3 761.9L793.3 761.6L799.3 752.0L805.3 760.5L811.3 768.8L818.3 766.8L824.3 767.9L830.3 769.7L836.3 772.7L843.3 773.1L849.3 776.9L855.3 774.5L862.3 775.4L868.3 774.5L874.3 778.7L880.3 762.8L887.3 750.2L893.3 747.9L899.3 757.1L905.3 737.7L912.3 732.6L918.3 730.1L924.3 725.6L930.3 724.5L937.3 735.5L943.3 738.2L949.3 740.9L955.3 735.9L962.3 734.6L968.3 726.0L974.3 745.7L980.3 752.9L987.3 761.4L993.3 761.6L999.3 755.1L1006.3 757.4L1012.3 758.7L1018.3 761.4L1024.3 752.0L1031.3 747.5L1037.3 742.1L1043.3 736.8L1049.3 731.9L1056.3 748.4L1062.3 743.0L1068.3 740.9L1074.3 746.3L1081.3 751.1L1087.3 743.6L1093.3 750.2L1099.3 751.5L1106.3 756.0L1112.3 755.8L1118.3 754.2L1125.3 755.6L1131.3 770.9L1137.3 770.0L1143.3 761.9L1150.3 766.4L1156.3 766.8L1162.3 767.7L1168.3 770.0L1175.3 765.9L1181.3 765.9L1187.3 740.4L1193.3 749.3L1200.3 745.4L1206.3 737.7L1212.3 732.8L1218.3 752.0L1225.3 745.7L1231.3 745.7L1237.3 744.8L1243.3 740.0L1250.3 742.1L1256.3 748.4L1262.3 750.2L1269.3 753.8L1275.3 761.0L1281.3 754.7L1287.3 759.8L1294.3 747.5L1300.3 739.5L1306.3 743.0L1312.3 750.2L1319.3 751.1L1325.3 755.1L1331.3 756.2L1337.3 756.2L1344.3 747.0L1350.3 748.4L1356.3 755.6L1362.3 766.1L1369.3 768.2L1375.3 765.5L1381.3 760.1L1388.3 767.3L1394.3 759.8L1400.3 748.8L1406.3 745.0L1413.3 746.3L1419.3 738.9L1425.3 738.7L1431.3 757.1L1438.3 758.0L1444.3 761.6L1450.3 761.0L1456.3 768.2L1463.3 759.6L1469.3 759.6L1475.3 771.5L1481.3 771.8L1488.3 769.5L1494.3 772.2L1500.3 773.3L1506.3 776.0L1513.3 770.4L1519.3 753.8L1525.3 752.9L1532.3 756.5L1538.3 758.0L1544.3 760.1L1550.3 765.5L1557.3 746.3L1563.3 737.1L1569.3 742.1L1575.3 723.8" stroke="#f7831b" stroke-width="2" fill="none" stroke-linejoin="round"/>
<rect x="10" y="715" width="1749" height="1" fill="#0c3b6e" shape-rendering="crispEdges"/>
<rect x="10" y="775" width="1749" height="1" fill="#0c3b6e" shape-rendering="crispEdges"/>
</g>
<rect x="10" y="603" width="1814" height="1" fill="#e9e9e9" shape-rendering="crispEdges"/>
<rect x="10" y="689" width="1814" height="1" fill="#e9e9e9" shape-rendering="crispEdges"/>
<text y="19"><tspan x="10.4" textLength="68.1" lengthAdjust="spacingAndGlyphs">khertekpapir</tspan> <tspan x="82.5" textLength="40.4" lengthAdjust="spacingAndGlyphs">created</tspan> <tspan x="127.7" textLength="23.2" lengthAdjust="spacingAndGlyphs">with</tspan> <tspan x="155.2" textLength="93.4" lengthAdjust="spacingAndGlyphs">TradingView.com,</tspan> <tspan x="253.5" textLength="18.0" lengthAdjust="spacingAndGlyphs">Jan</tspan> <tspan x="275.3" textLength="16.4" lengthAdjust="spacingAndGlyphs">09,</tspan> <tspan x="296.6" textLength="24.0" lengthAdjust="spacingAndGlyphs">2026</tspan> <tspan x="325.9" textLength="28.8" lengthAdjust="spacingAndGlyphs">13:24</tspan> <tspan x="358.9" textLength="33.0" lengthAdjust="spacingAndGlyphs">UTC+1</tspan></text>
<text y="46"><tspan x="18" textLength="35.4" lengthAdjust="spacingAndGlyphs">Costco</tspan> <tspan x="57.8" textLength="53.4" lengthAdjust="spacingAndGlyphs">Wholesale</tspan> <tspan x="115.7" textLength="63.0" lengthAdjust="spacingAndGlyphs">Corporation</tspan> <tspan x="182.3" font-weight="bold">·</tspan> <tspan x="190.9" textLength="13.3" lengthAdjust="spacingAndGlyphs">1D</tspan> <tspan x="208" font-weight="bold">·</tspan> <tspan x="216.3" textLength="42.7" lengthAdjust="spacingAndGlyphs">NASDAQ</tspan> <tspan x="266.6" textLength="7.7" lengthAdjust="spacingAndGlyphs">O</tspan><tspan x="275.1" textLength="34.6" lengthAdjust="spacingAndGlyphs" fill="#089981" stroke="#089981">901.13</tspan> <tspan x="317.5" textLength="7.6" lengthAdjust="spacingAndGlyphs">H</tspan><tspan x="325.9" textLength="34.8" lengthAdjust="spacingAndGlyphs" fill="#089981" stroke="#089981">931.67</tspan> <tspan x="368.7" textLength="5.3" lengthAdjust="spacingAndGlyphs">L</tspan><tspan x="374.7" textLength="35.4" lengthAdjust="spacingAndGlyphs" fill="#089981" stroke="#089981">896.00</tspan> <tspan x="417.8" textLength="6.6" lengthAdjust="spacingAndGlyphs">C</tspan><tspan x="425.2" textLength="34.2" lengthAdjust="spacingAndGlyphs" fill="#089981" stroke="#089981">915.31</tspan> <tspan x="467.9" textLength="34.9" lengthAdjust="spacingAndGlyphs" fill="#089981" stroke="#089981">+32.73</tspan> <tspan x="508.4" textLength="44.0" lengthAdjust="spacingAndGlyphs" fill="#089981" stroke="#089981">(+3.71%)</tspan></text>
<text y="63"><tspan x="18" textLength="21.2" lengthAdjust="spacingAndGlyphs">SMA</tspan> <tspan x="44.1" textLength="18.8" lengthAdjust="spacingAndGlyphs">(50,</tspan> <tspan x="67.8" textLength="31.4" lengthAdjust="spacingAndGlyphs">close)</tspan> <tspan x="107.1" textLength="35.6" lengthAdjust="spacingAndGlyphs" fill="#0aaef5" stroke="#0aaef5">894.57</tspan></text>
<text y="80"><tspan x="18" textLength="21.2" lengthAdjust="spacingAndGlyphs">SMA</tspan> <tspan x="44.1" textLength="25.4" lengthAdjust="spacingAndGlyphs">(200,</tspan> <tspan x="74.4" textLength="31.0" lengthAdjust="spacingAndGlyphs">close)</tspan> <tspan x="113.9" textLength="34.9" lengthAdjust="spacingAndGlyphs" fill="#0c3b6e" stroke="#0c3b6e">950.28</tspan></text>
<text y="623"><tspan x="17.7" textLength="30.0" lengthAdjust="spacingAndGlyphs">MACD</tspan> <tspan x="53.1" textLength="18.8" lengthAdjust="spacingAndGlyphs">(12,</tspan> <tspan x="76.8" textLength="15.6" lengthAdjust="spacingAndGlyphs">26,</tspan> <tspan x="97.3" textLength="31.8" lengthAdjust="spacingAndGlyphs">close)</tspan> <tspan x="136.5" textLength="22.9" lengthAdjust="spacingAndGlyphs" fill="#26588a" stroke="#26588a">6.34</tspan> <tspan x="167.6" textLength="28.1" lengthAdjust="spacingAndGlyphs" fill="#0c3b6e" stroke="#0c3b6e">−1.82</tspan> <tspan x="204.3" textLength="28.7" lengthAdjust="spacingAndGlyphs" fill="#0aaef5" stroke="#0aaef5">−8.16</tspan></text>
<text y="709"><tspan x="18.3" textLength="15.5" lengthAdjust="spacingAndGlyphs">RSI</tspan> <tspan x="38.7" textLength="19.2" lengthAdjust="spacingAndGlyphs">(14,</tspan> <tspan x="62.6" textLength="31.3" lengthAdjust="spacingAndGlyphs">close)</tspan> <tspan x="102" textLength="28.9" lengthAdjust="spacingAndGlyphs" fill="#f7831b" stroke="#f7831b">63.58</tspan></text>
<text x="1768.6" y="87.7" textLength="45.6" lengthAdjust="spacingAndGlyphs">1,080.00</text>
<text x="1768.6" y="125.7" textLength="45.6" lengthAdjust="spacingAndGlyphs">1,060.00</text>
<text x="1768.6" y="163.7" textLength="45.6" lengthAdjust="spacingAndGlyphs">1,040.00</text>
<text x="1768.6" y="201.7" textLength="45.6" lengthAdjust="spacingAndGlyphs">1,020.00</text>
<text x="1768.6" y="239.7" textLength="45.6" lengthAdjust="spacingAndGlyphs">1,000.00</text>
<text x="1768.6" y="277.7" textLength="36.0" lengthAdjust="spacingAndGlyphs">980.00</text>
<text x="1768.6" y="315.7" textLength="36.0" lengthAdjust="spacingAndGlyphs">960.00</text>
<text x="1768.6" y="353.7" textLength="36.0" lengthAdjust="spacingAndGlyphs">940.00</text>
<text x="1768.6" y="391.7" textLength="36.0" lengthAdjust="spacingAndGlyphs">920.00</text>
<text x="1768.6" y="429.7" textLength="36.0" lengthAdjust="spacingAndGlyphs">900.00</text>
<text x="1768.6" y="467.7" textLength="36.0" lengthAdjust="spacingAndGlyphs">880.00</text>
<text x="1768.6" y="505.7" textLength="36.0" lengthAdjust="spacingAndGlyphs">860.00</text>
<text x="1768.6" y="543.7" textLength="36.0" lengthAdjust="spacingAndGlyphs">840.00</text>
<text x="1768.6" y="581.7" textLength="36.0" lengthAdjust="spacingAndGlyphs">820.00</text>
<g clip-path="url(#c4)"><clipPath id="c4"><rect x="1760" y="604" width="64" height="85"/></clipPath>
<text x="1768.6" y="610.8" textLength="29.7" lengthAdjust="spacingAndGlyphs">40.00</text>
<text x="1768.6" y="652.3" textLength="36.0" lengthAdjust="spacingAndGlyphs">0.0000</text>
</g>
<text x="1768.6" y="704.6" textLength="29.7" lengthAdjust="spacingAndGlyphs">80.00</text>
<text x="1768.6" y="734.8" textLength="29.7" lengthAdjust="spacingAndGlyphs">60.00</text>
<text x="1768.6" y="764.8" textLength="29.7" lengthAdjust="spacingAndGlyphs">40.00</text>
<path d="M1760 89h58a2 2 0 0 1 2 2v13a2 2 0 0 1 -2 2h-58z" fill="#f23645"/>
<text x="1768.2" y="101.8" textLength="45.6" lengthAdjust="spacingAndGlyphs" fill="#fff" stroke="#fff" style="stroke-width:.55px">1,073.55</text>
<path d="M1760 118h58a2 2 0 0 1 2 2v13a2 2 0 0 1 -2 2h-58z" fill="#f23645"/>
<text x="1768.2" y="130.8" textLength="45.6" lengthAdjust="spacingAndGlyphs" fill="#fff" stroke="#fff" style="stroke-width:.55px">1,058.10</text>
<path d="M1760 465h47a2 2 0 0 1 2 2v13a2 2 0 0 1 -2 2h-47z" fill="#f23645"/>
<text x="1768.2" y="477.8" textLength="35.9" lengthAdjust="spacingAndGlyphs" fill="#fff" stroke="#fff" style="stroke-width:.55px">875.05</text>
<path d="M1760 515h47a2 2 0 0 1 2 2v13a2 2 0 0 1 -2 2h-47z" fill="#f23645"/>
<text x="1768.2" y="527.8" textLength="35.9" lengthAdjust="spacingAndGlyphs" fill="#fff" stroke="#fff" style="stroke-width:.55px">848.49</text>
<rect x="1763" y="30.5" width="58.5" height="27" rx="4" fill="#fff" stroke="#ededed" stroke-width="1.2"/>
<text x="1772.4" y="48.8" textLength="20.0" lengthAdjust="spacingAndGlyphs">USD</text>
<text x="100.4" y="809.1" textLength="19.8" lengthAdjust="spacingAndGlyphs">Feb</text>
<text x="219.0" y="809.1" textLength="20.2" lengthAdjust="spacingAndGlyphs">Mar</text>
<text x="351.3" y="809.1" textLength="18.5" lengthAdjust="spacingAndGlyphs">Apr</text>
<text x="481.3" y="809.1" textLength="21.0" lengthAdjust="spacingAndGlyphs">May</text>
<text x="614.4" y="809.1" textLength="18.7" lengthAdjust="spacingAndGlyphs">Jun</text>
<text x="740.7" y="809.1" textLength="16.4" lengthAdjust="spacingAndGlyphs">Jul</text>
<text x="876.9" y="809.1" textLength="19.8" lengthAdjust="spacingAndGlyphs">Aug</text>
<text x="1008.5" y="809.1" textLength="19.1" lengthAdjust="spacingAndGlyphs">Sep</text>
<text x="1140.4" y="809.1" textLength="18.3" lengthAdjust="spacingAndGlyphs">Oct</text>
<text x="1283.5" y="809.1" textLength="20.2" lengthAdjust="spacingAndGlyphs">Nov</text>
<text x="1402.9" y="809.1" textLength="19.5" lengthAdjust="spacingAndGlyphs">Dec</text>
<text x="1536.9" y="809.1" textLength="27.5" lengthAdjust="spacingAndGlyphs" font-weight="bold">2026</text>
<text x="1665.8" y="809.1" textLength="19.5" lengthAdjust="spacingAndGlyphs">Feb</text>
<path d="M9 26H1826V820H9zM10 27V819H1825V27z" fill="#f0f0f0" fill-rule="evenodd" shape-rendering="crispEdges"/>
<path d="M10 27H1825V819H10zM11 28V818H1824V28z" fill="#f0f0f0" fill-opacity="0.6" fill-rule="evenodd" shape-rendering="crispEdges"/>
<g transform="translate(12 837.83) scale(0.845 0.817)" fill="#0f0f0f"><path d="M14 22H7V11H0V4h14v18z"/><circle cx="20" cy="8" r="4"/><path d="M28 22h-8l7.5-18h8L28 22z"/></g>
<text x="49" y="855.8" textLength="121" lengthAdjust="spacingAndGlyphs" font-weight="bold" font-size="20.5" stroke="#0f0f0f" style="stroke-width:.4px">TradingView</text>
</g>
</svg>
</body></html>
